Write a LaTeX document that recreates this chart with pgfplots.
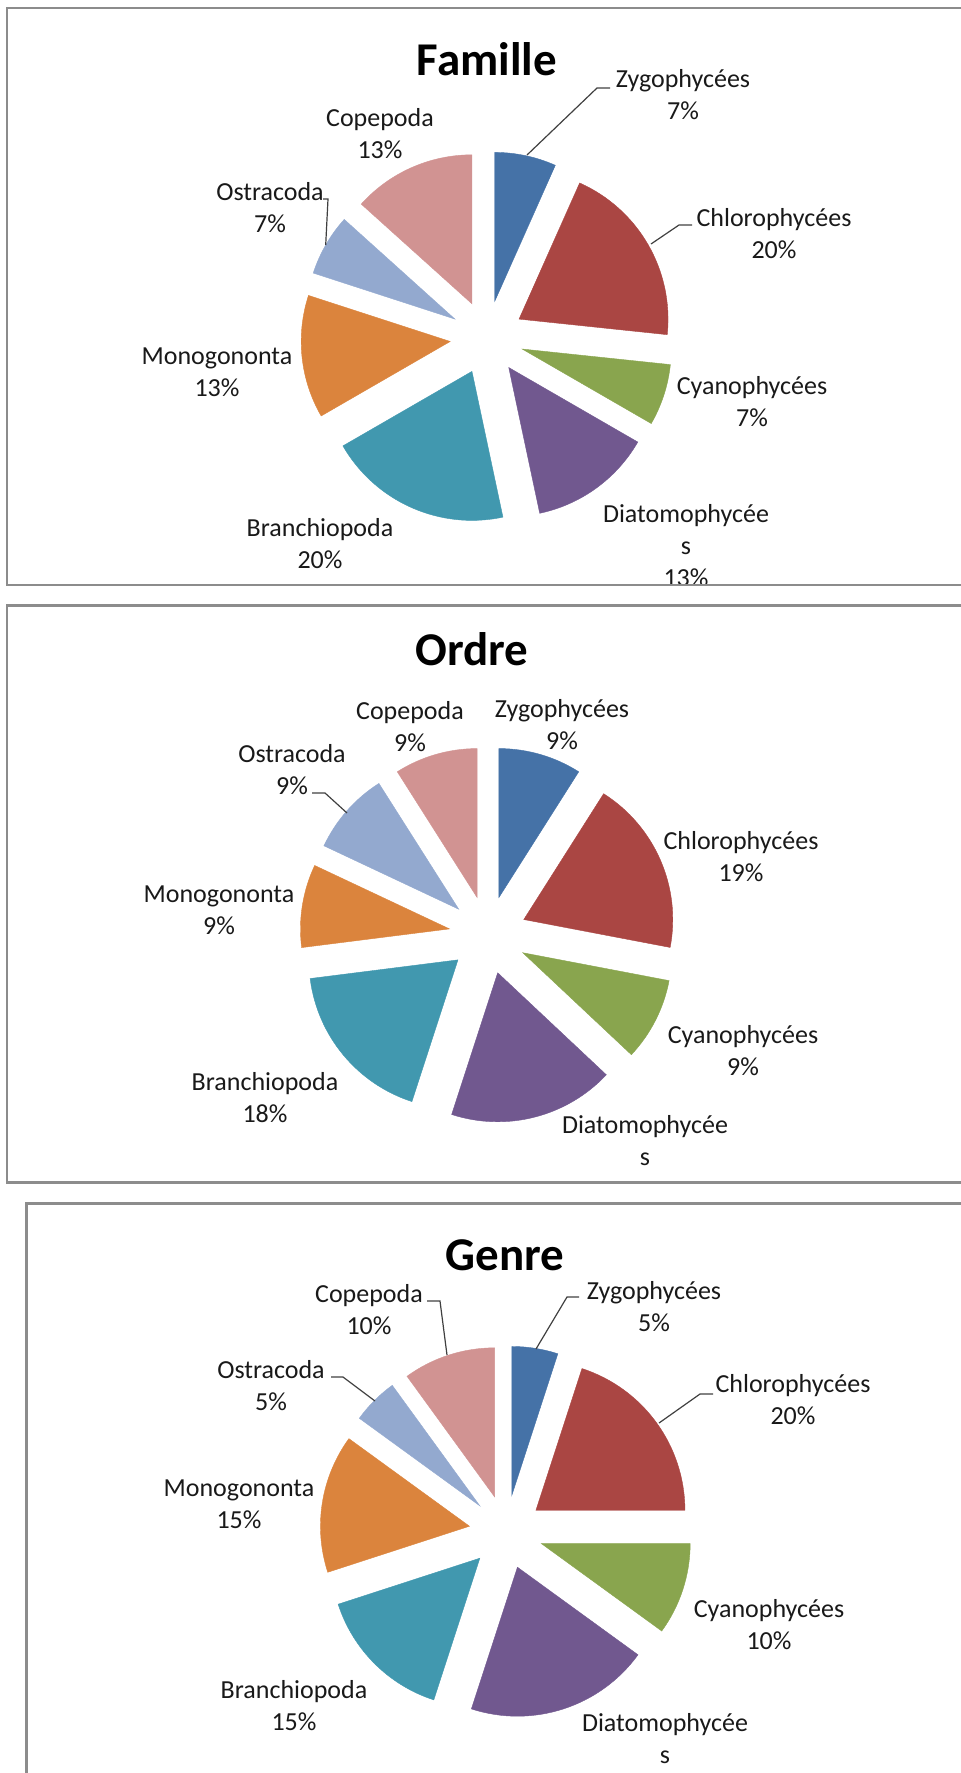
\documentclass[border=0pt]{standalone}
\usepackage{fontspec}
\setmainfont{Carlito}
\usepackage{pgfplots}
\usepackage{pgfplotstable}
\pgfplotsset{compat=1.18}

\definecolor{c1}{HTML}{4572A7}
\definecolor{c2}{HTML}{AA4643}
\definecolor{c3}{HTML}{89A54E}
\definecolor{c4}{HTML}{71588F}
\definecolor{c5}{HTML}{4198AF}
\definecolor{c6}{HTML}{DB843D}
\definecolor{c7}{HTML}{93A9CF}
\definecolor{c8}{HTML}{D19392}
\definecolor{frame}{HTML}{8C8C8C}
\definecolor{lead}{HTML}{404040}

\pgfdeclareplotmark{nomark}{}

% Famille (counts, total 15)
\pgfplotstableread[col sep=comma]{
name,value,ci
Zygophycées,1,1
Chlorophycées,3,2
Cyanophycées,1,3
Diatomophycées,2,4
Branchiopoda,3,5
Monogononta,2,6
Ostracoda,1,7
Copepoda,2,8
}\famille

% Ordre (percent)
\pgfplotstableread[col sep=comma]{
name,value,ci
Zygophycées,9,1
Chlorophycées,19,2
Cyanophycées,9,3
Diatomophycées,18,4
Branchiopoda,18,5
Monogononta,9,6
Ostracoda,9,7
Copepoda,9,8
}\ordre

% Genre (counts, total 20)
\pgfplotstableread[col sep=comma]{
name,value,ci
Zygophycées,1,1
Chlorophycées,4,2
Cyanophycées,2,3
Diatomophycées,4,4
Branchiopoda,3,5
Monogononta,3,6
Ostracoda,1,7
Copepoda,2,8
}\genre

\newcommand\preppie[2]{%
  \pgfplotstablecreatecol[create col/expr accum={\pgfmathaccuma+\thisrow{value}}{0}]{cum}#1%
  \pgfplotstablegetrowsof{#1}%
  \pgfmathtruncatemacro\pielast{\pgfplotsretval-1}%
  \pgfplotstablegetelem{\pielast}{cum}\of#1%
  \let\pietot\pgfplotsretval
  \pgfplotstablecreatecol[create col/expr={90-360*(\thisrow{cum}-\thisrow{value})/\pietot}]{sa}#1%
  \pgfplotstablecreatecol[create col/expr={90-360*\thisrow{cum}/\pietot}]{ea}#1%
  \pgfplotstablecreatecol[create col/expr={#2*cos(90-360*(\thisrow{cum}-0.5*\thisrow{value})/\pietot)}]{px}#1%
  \pgfplotstablecreatecol[create col/expr={#2*sin(90-360*(\thisrow{cum}-0.5*\thisrow{value})/\pietot)}]{py}#1%
}
\preppie{\famille}{37}
\preppie{\ordre}{39}
\preppie{\genre}{37}

\pgfplotsset{
  piewedge/.style={
    scatter, only marks, mark=nomark,
    visualization depends on={\thisrow{sa}\as\wsa},
    visualization depends on={\thisrow{ea}\as\wea},
    visualization depends on={\thisrow{ci}\as\wci},
    scatter/@pre marker code/.code={%
      \pgfmathtruncatemacro\wk{round(\wci)}%
      \fill[c\wk] (0pt,0pt) -- (\wsa:#1) arc[start angle=\wsa,end angle=\wea,radius=#1] -- cycle;},
    scatter/@post marker code/.code={},
  },
  pieaxis/.style={anchor=center, x=1bp, y=1bp, xmin=-200, xmax=200, ymin=-200, ymax=200, hide axis, clip=false},
}

\newcommand\lf{\fontsize{26bp}{32bp}\selectfont}
\tikzset{lbl/.style={anchor=base, inner sep=0pt, font=\lf, text=black!90}}
\newcommand\lab[4]{%
  \node[lbl] at (#1bp,-#2bp) {#3};
  \node[lbl, yshift=-32bp] at (#1bp,-#2bp) {#4};}
\newcommand\ttl[3]{\node[anchor=base, inner sep=0pt, font=\fontsize{47bp}{56bp}\selectfont\bfseries] at (#1bp,-#2bp) {#3};}

\begin{document}
\begin{tikzpicture}
\path[use as bounding box] (0,0) rectangle (961bp,-1773bp);
\clip (0,0) rectangle (961bp,-1773bp);

% frames
\draw[frame, line width=2.6bp] (1100bp,-8bp) -- (7bp,-8bp) -- (7bp,-585bp) -- (1100bp,-585bp);
\draw[frame, line width=2.6bp] (1100bp,-605.5bp) -- (7bp,-605.5bp) -- (7bp,-1182.5bp) -- (1100bp,-1182.5bp);
\draw[frame, line width=2.6bp] (1100bp,-1203.7bp) -- (26.3bp,-1203.7bp) -- (26.3bp,-1900bp);

% ---------- Famille ----------
\begin{axis}[pieaxis, at={(487bp,-337.6bp)}]
\addplot[piewedge=149bp] table[x=px,y=py]{\famille};
\end{axis}
\ttl{487}{75}{Famille}
\begin{scope}
\clip (8bp,-9bp) rectangle (961bp,-583.7bp);
\lab{683}{87}{Zygophycées}{7\%}
\lab{774}{226}{Chlorophycées}{20\%}
\lab{752}{394}{Cyanophycées}{7\%}
\lab{686}{522}{Diatomophycée}{s}
\node[lbl, yshift=-64bp] at (686bp,-522bp) {13\%};
\lab{320}{536}{Branchiopoda}{20\%}
\lab{217}{364}{Monogononta}{13\%}
\lab{270}{200}{Ostracoda}{7\%}
\lab{380}{126}{Copepoda}{13\%}
\end{scope}
\draw[lead, line width=1.2bp] (527bp,-155bp) -- (597bp,-88bp) -- (610bp,-88bp);
\draw[lead, line width=1.2bp] (651bp,-244bp) -- (679bp,-225bp) -- (692bp,-225bp);
\draw[lead, line width=1.2bp] (325.7bp,-245bp) -- (328bp,-199bp) -- (323bp,-199bp);

% ---------- Ordre ----------
\begin{axis}[pieaxis, at={(488bp,-935bp)}]
\addplot[piewedge=149bp] table[x=px,y=py]{\ordre};
\end{axis}
\ttl{472}{665}{Ordre}
\lab{562}{717}{Zygophycées}{9\%}
\lab{741}{849}{Chlorophycées}{19\%}
\lab{743}{1043}{Cyanophycées}{9\%}
\lab{645}{1133}{Diatomophycée}{s}
\lab{265}{1090}{Branchiopoda}{18\%}
\lab{219}{902}{Monogononta}{9\%}
\lab{292}{762}{Ostracoda}{9\%}
\lab{410}{719}{Copepoda}{9\%}
\draw[lead, line width=1.2bp] (312bp,-793bp) -- (325bp,-793bp) -- (347bp,-813bp);

% ---------- Genre ----------
\begin{axis}[pieaxis, at={(506bp,-1532bp)}]
\addplot[piewedge=149bp] table[x=px,y=py]{\genre};
\end{axis}
\ttl{505}{1270}{Genre}
\lab{654}{1299}{Zygophycées}{5\%}
\lab{793}{1392}{Chlorophycées}{20\%}
\lab{769}{1617}{Cyanophycées}{10\%}
\lab{665}{1731}{Diatomophycée}{s}
\lab{294}{1698}{Branchiopoda}{15\%}
\lab{239}{1496}{Monogononta}{15\%}
\lab{271}{1378}{Ostracoda}{5\%}
\lab{369}{1302}{Copepoda}{10\%}
\draw[lead, line width=1.2bp] (536bp,-1349bp) -- (567bp,-1297bp) -- (579bp,-1297bp);
\draw[lead, line width=1.2bp] (659bp,-1423bp) -- (700bp,-1394bp) -- (713bp,-1394bp);
\draw[lead, line width=1.2bp] (331bp,-1377bp) -- (343bp,-1377bp) -- (375bp,-1401bp);
\draw[lead, line width=1.2bp] (427bp,-1301bp) -- (440bp,-1301bp) -- (447bp,-1355bp);
\end{tikzpicture}
\end{document}
